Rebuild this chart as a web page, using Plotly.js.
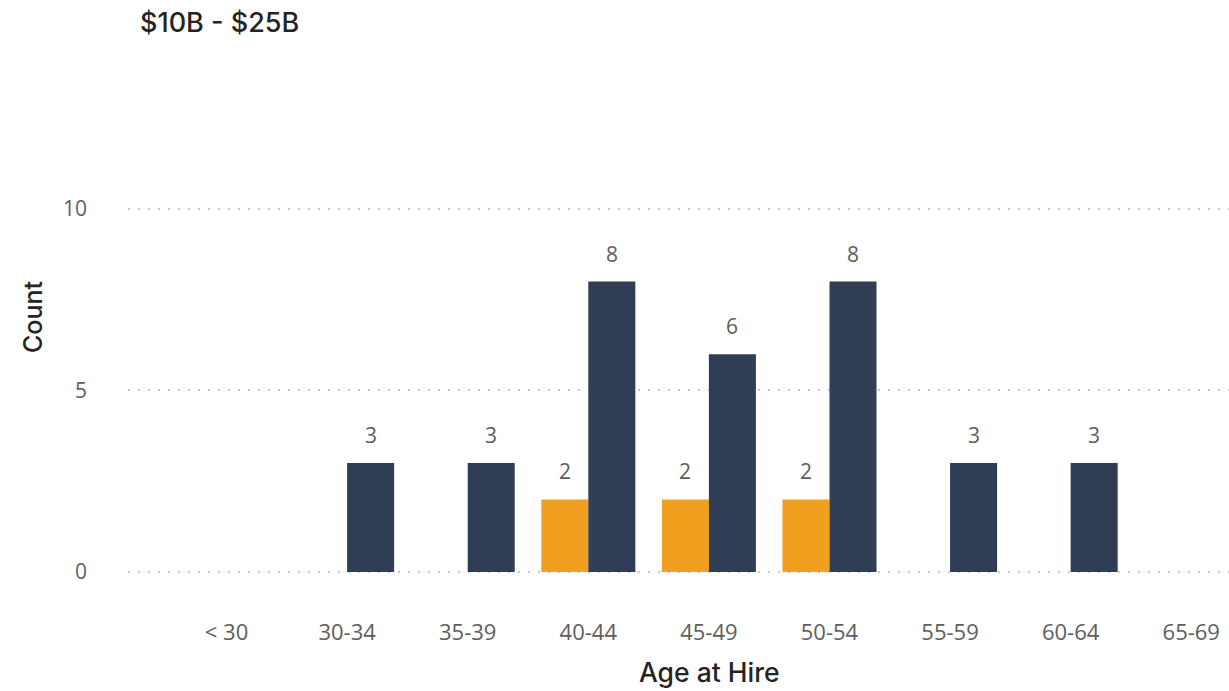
<!DOCTYPE html>
<html>
<head>
<meta charset="utf-8">
<script src="https://cdn.plot.ly/plotly-3.0.1.min.js"></script>
<style>
  html, body { margin: 0; padding: 0; background: #ffffff; }
  #chart { width: 1229px; height: 691px; }
</style>
</head>
<body>
<div id="chart"></div>
<script>
// Age-at-hire buckets and counts per series
const ageBuckets = ['< 30', '30-34', '35-39', '40-44', '45-49', '50-54', '55-59', '60-64', '65-69'];
const orangeCounts = [null, null, null, 2, 2, 2, null, null, null];
const navyCounts = [null, 3, 3, 8, 6, 8, 3, 3, null];
const yTicks = [0, 5, 10];

const chartTitle = '$10B - $25B';
const xTitle = 'Age at Hire';
const yTitle = 'Count';

const ORANGE = '#F0A01E';
const NAVY = '#2F3E55';
const LABEL_GREY = '#605E5C';
const TITLE_DARK = '#252423';
const bodyFont = 'Open Sans, Noto Sans, sans-serif';
const headFont = 'Inter, Roboto, sans-serif';

const traces = [
  { type: 'bar', name: 'A', x: ageBuckets, y: orangeCounts,
    marker: { color: ORANGE }, hoverinfo: 'skip' },
  { type: 'bar', name: 'B', x: ageBuckets, y: navyCounts,
    marker: { color: NAVY }, hoverinfo: 'skip' }
];

// Value labels above each bar, shifted to its slot within the group
const halfSlot = 23.5;
const valueLabels = [];
[[orangeCounts, -halfSlot], [navyCounts, halfSlot]].forEach(([vals, dx]) => {
  vals.forEach((v, i) => {
    if (v === null) return;
    valueLabels.push({
      x: ageBuckets[i], y: v, xref: 'x', yref: 'y',
      text: String(v), showarrow: false,
      xanchor: 'center', yanchor: 'bottom',
      xshift: dx, yshift: 12,
      font: { family: bodyFont, size: 21, color: LABEL_GREY }
    });
  });
});

const layout = {
  width: 1229, height: 691,
  margin: { l: 128, r: 0, t: 170, b: 74 },
  paper_bgcolor: '#ffffff', plot_bgcolor: '#ffffff',
  showlegend: false,
  barmode: 'group',
  bargap: 0.22,
  bargroupgap: 0,
  title: {
    text: chartTitle,
    xref: 'container', yref: 'container',
    x: 140 / 1229, xanchor: 'left',
    y: 1 - 23 / 691, yanchor: 'middle',
    font: { family: headFont, size: 27, color: TITLE_DARK, weight: 500 }
  },
  xaxis: {
    type: 'category',
    range: [-0.817, 8.313],
    showgrid: false, zeroline: false, showline: false,
    ticks: '',
    tickfont: { family: bodyFont, size: 22, color: LABEL_GREY }
  },
  yaxis: {
    range: [-1.240, 11.074],
    tickmode: 'array', tickvals: yTicks,
    showgrid: true, gridcolor: '#C8C8C8', griddash: '2px,8px', gridwidth: 2,
    zeroline: false, showline: false, ticks: '',
    ticklabelstandoff: 40,
    tickfont: { family: bodyFont, size: 21, color: LABEL_GREY }
  },
  annotations: valueLabels.concat([
    { text: xTitle, xref: 'paper', yref: 'paper',
      x: (709 - 128) / 1101, y: -(672 - 617) / 447,
      xanchor: 'center', yanchor: 'middle', showarrow: false,
      font: { family: headFont, size: 26.5, color: TITLE_DARK, weight: 500 } },
    { text: yTitle, xref: 'paper', yref: 'paper',
      x: -(128 - 33) / 1101, y: (617 - 317) / 447,
      xanchor: 'center', yanchor: 'middle', textangle: -90, showarrow: false,
      font: { family: headFont, size: 25, color: TITLE_DARK, weight: 500 } }
  ])
};

Plotly.newPlot('chart', traces, layout, { displayModeBar: false, staticPlot: true });
</script>
</body>
</html>
